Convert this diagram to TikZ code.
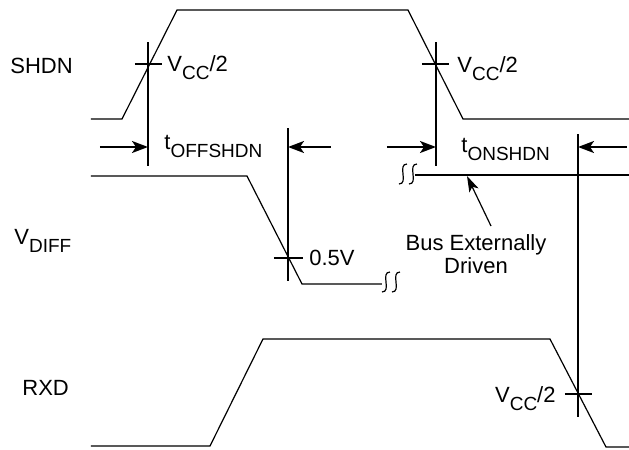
\documentclass[tikz,border=0pt]{standalone}
\usepackage{fontspec}
\setmainfont{Liberation Sans}
\usetikzlibrary{arrows.meta}
\newcommand{\lo}[1]{\raisebox{-4pt}{\fontsize{9.5}{9.5}\selectfont #1}}

\begin{document}
\begin{tikzpicture}[x=0.5pt,y=-0.5pt,font=\fontsize{11}{11.5}\selectfont,
    wave/.style={line width=0.6pt},
    tline/.style={line width=1pt},
    dim/.style={line width=1pt,-{Stealth[length=8pt,width=6pt,inset=2pt]}},
    squig/.pic={
      \draw[line width=0.6pt] (4,-10) .. controls (-6,-10) and (6,10) .. (-4,10);
      \draw[line width=0.6pt] (14,-10) .. controls (4,-10) and (16,10) .. (6,10);
    }]
    \useasboundingbox (0,0) rectangle (629,450);
    % signal names
    \node[anchor=base west,inner sep=0] (shdn) at (10,73) {SHDN};
    \node[anchor=base west,inner sep=0] (vdiff) at (14,244) {V\lo{DIFF}};
    \node[anchor=base west,inner sep=0] (rxd) at (22,395) {RXD};
    % waveforms
    \draw[wave] (91,119) -- (122,119) -- (177,10) -- (408,10) -- (463,119) -- (629,119);
    \draw[wave] (91,176) -- (247,176) -- (302,284) -- (382,284);
    \pic at (386,282) {squig};
    \draw[wave] (415,175) -- (629,175);
    \pic at (403,174) {squig};
    \draw[wave] (91,446) -- (210,446) -- (263,339) -- (550,339) -- (606,447) -- (629,447);
    % timing markers
    \draw[tline] (148,42) -- (148,166);
    \draw[tline] (135,64) -- (162,64);
    \draw[tline] (288,128) -- (288,281);
    \draw[tline] (274,258) -- (303,258);
    \draw[tline] (436,42) -- (436,166);
    \draw[tline] (422,64) -- (449,64);
    \draw[tline] (578,134) -- (578,417);
    \draw[tline] (565,394) -- (592,394);
    % levels
    \node[anchor=base west,inner sep=0] (vcc1) at (167,71) {V\lo{CC}/2};
    \node[anchor=base west,inner sep=0] (vcc2) at (457,72) {V\lo{CC}/2};
    \node[anchor=base west,inner sep=0] (half) at (309,265) {0.5V};
    \node[anchor=base east,inner sep=0] (vcc3) at (556,402) {V\lo{CC}/2};
    % delays
    \coordinate (off1) at (148,147);
    \coordinate (off2) at (288,147);
    \coordinate (on1) at (436,147);
    \coordinate (on2) at (578,147);
    \draw[dim] (100,147) -- (off1);
    \draw[dim] (331,147) -- (off2);
    \draw[dim] (387,147) -- (on1);
    \draw[dim] (627,147) -- (on2);
    \node[anchor=base west,inner sep=0] (toff) at (164,149) {t\lo{OFFSHDN}};
    \node[anchor=base west,inner sep=0] (ton) at (461,152) {t\lo{ONSHDN}};
    % bus note
    \node[align=center,inner sep=0] (bus) at (476,254) {Bus Externally\\Driven};
    \coordinate (bustip) at (467,176);
    \coordinate (busfrom) at (491,226);
    \draw[line width=0.6pt,-{Stealth[length=8pt,width=5pt,inset=2pt]}] (busfrom) -- (bustip);
\end{tikzpicture}
\end{document}
